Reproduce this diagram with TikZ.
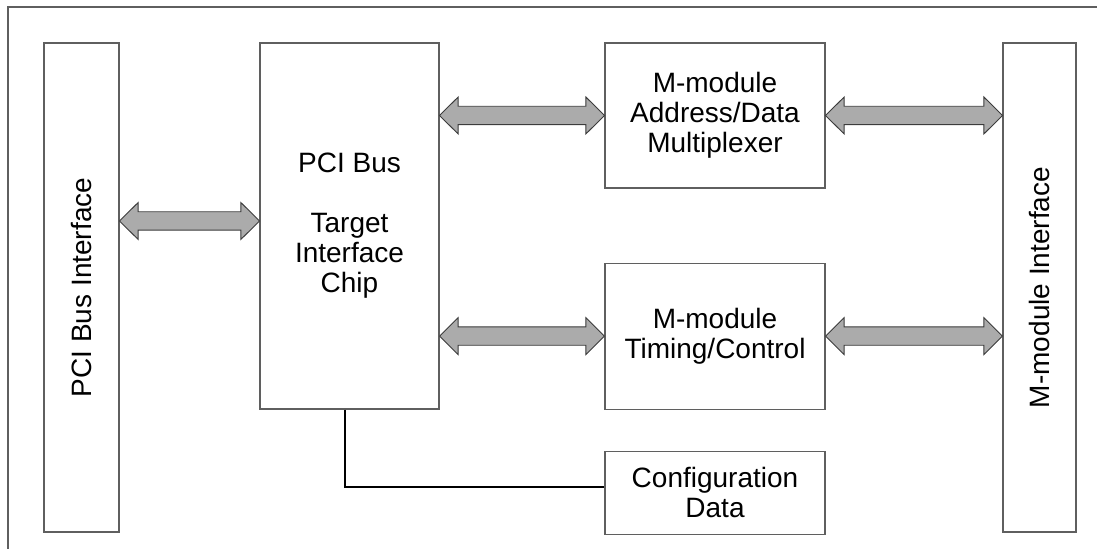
\documentclass[tikz,border=0pt]{standalone}
\usepackage{fontspec}
\setmainfont{Liberation Sans}
\usepackage{tikz}
\usetikzlibrary{positioning,calc}
\definecolor{grisB}{RGB}{95,95,95}
\definecolor{grisF}{RGB}{171,171,171}
\definecolor{grisC}{RGB}{60,60,60}
\tikzset{
  boite/.style={rectangle, draw=grisB, line width=0.55pt, fill=white, align=center,
                font=\fontsize{14}{15}\selectfont, inner sep=2pt},
  cadre/.style={draw=grisB, line width=0.8pt},
  busfleche/.style={draw=grisC, line width=0.45pt, fill=grisF, line join=miter},
  lien/.style={draw=black, line width=0.85pt},
}
\newcommand{\busarrow}[2]{%
  \draw[busfleche] let \p1=(#1), \p2=(#2) in
    (\x1,\y1) -- (\x1+9.3pt,\y1+9.25pt) -- (\x1+9.3pt,\y1+4.6pt)
    -- (\x2-9.3pt,\y1+4.6pt) -- (\x2-9.3pt,\y1+9.25pt) -- (\x2,\y1)
    -- (\x2-9.3pt,\y1-9.25pt) -- (\x2-9.3pt,\y1-4.6pt)
    -- (\x1+9.3pt,\y1-4.6pt) -- (\x1+9.3pt,\y1-9.25pt) -- cycle;}
\begin{document}
\begin{tikzpicture}[x=0.5pt, y=-0.5pt]
  \useasboundingbox (0,0) rectangle (1097,549);
  % cadre exterieur
  \draw[cadre] (8,549) -- (8,7) -- (1097,7);

  % blocs lateraux tournes : south = cote droit, north = cote gauche
  \node[boite, rotate=90, minimum width=244.5pt, minimum height=37.5pt] (pcii) at (81.5,287.5) {PCI Bus Interface};
  \node[boite, minimum width=89.5pt, minimum height=183pt] (chip) at (349.5,226)
    {PCI Bus\\[15pt]Target\\Interface\\Chip};
  \node[boite, minimum width=110pt, minimum height=72.5pt] (adm) at (715,115.5)
    {M-module\\Address/Data\\Multiplexer};
  \node[boite, minimum width=110pt, minimum height=73pt, below=37pt of adm] (tim)
    {M-module\\Timing/Control};
  \node[boite, minimum width=110pt, minimum height=41.5pt, below=20.5pt of tim] (cfg)
    {Configuration\\Data};
  \node[boite, rotate=90, minimum width=244.5pt, minimum height=36.5pt] (mmi) at (1039.5,287.5) {M-module Interface};

  \busarrow{$(pcii.south |- chip.west)+(0,-5)$}{chip.west}
  \busarrow{chip.east |- adm.west}{adm.west}
  \busarrow{chip.east |- tim.west}{tim.west}
  \busarrow{adm.east}{mmi.north |- adm.east}
  \busarrow{tim.east}{mmi.north |- tim.east}

  \draw[lien] ([xshift=-2.25pt]chip.south) |- ([yshift=2.75pt]cfg.west);
\end{tikzpicture}
\end{document}
